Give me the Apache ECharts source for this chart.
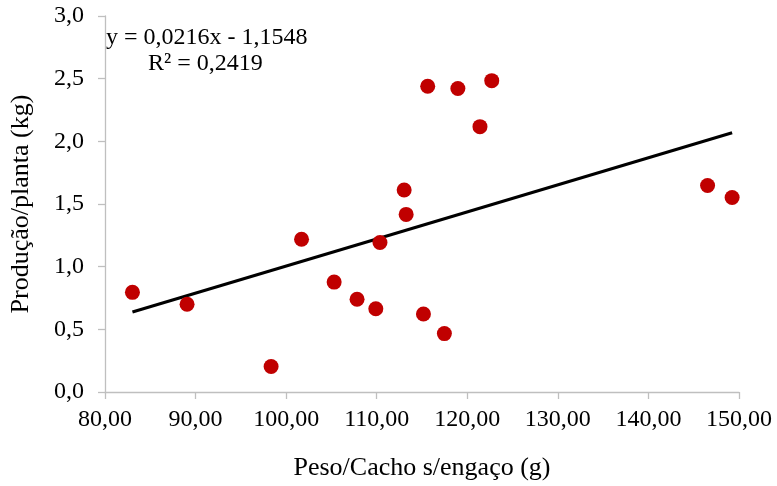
<!DOCTYPE html>
<html><head><meta charset="utf-8">
<script src="https://cdn.jsdelivr.net/npm/echarts@6/dist/echarts.min.js"></script>
<style>html,body{margin:0;padding:0;background:#fff}#c{width:777px;height:486px}</style>
</head><body><div id="c"></div>
<script>
const pesoCacho = [83.03, 89.06, 98.34, 101.7, 105.3, 107.83, 109.9, 110.36, 113.03, 113.25, 115.16, 115.63, 117.47, 118.96, 121.4, 122.7, 146.53, 149.24];
const producao  = [0.795, 0.70, 0.203, 1.219, 0.877, 0.74, 0.664, 1.193, 1.612, 1.417, 0.622, 2.44, 0.466, 2.422, 2.117, 2.484, 1.648, 1.552];
const slope = 0.0216, intercept = -1.1548;
const eqText = 'y = 0,0216x - 1,1548';
const r2Text = 'R² = 0,2419';
const xTitle = 'Peso/Cacho s/engaço (g)';
const yTitle = 'Produção/planta (kg)';

const pts = pesoCacho.map((x, i) => [x, producao[i]]);
const xMin = Math.min(...pesoCacho), xMax = Math.max(...pesoCacho);
const trend = [[xMin, slope * xMin + intercept], [xMax, slope * xMax + intercept]];
const font = '"Liberation Serif", "Times New Roman", serif';
const axisCol = '#bfbfbf';

const chart = echarts.init(document.getElementById('c'), null, {renderer: 'canvas'});
chart.setOption({
  animation: false,
  backgroundColor: '#fff',
  grid: {left: 93, right: 38, top: 16, bottom: 86, containLabel: false},
  xAxis: {
    type: 'value', min: 80, max: 150, interval: 10,
    name: xTitle, nameLocation: 'middle', nameGap: 63,
    nameTextStyle: {fontFamily: font, fontSize: 26, color: '#000'},
    axisLine: {show: true, lineStyle: {color: axisCol, width: 1.3}},
    axisTick: {show: true, length: 7, lineStyle: {color: axisCol, width: 1.3}},
    axisLabel: {margin: 16, fontFamily: font, fontSize: 24, color: '#000',
      formatter: v => v.toFixed(2).replace('.', ',')},
    splitLine: {show: false}
  },
  yAxis: {
    type: 'value', min: 0, max: 3, interval: 0.5,
    name: yTitle, nameLocation: 'middle', nameGap: 71, nameRotate: 90,
    nameTextStyle: {fontFamily: font, fontSize: 26, color: '#000'},
    axisLine: {show: true, lineStyle: {color: axisCol, width: 1.3}},
    axisTick: {show: true, length: 7, lineStyle: {color: axisCol, width: 1.3}},
    axisLabel: {margin: 21, fontFamily: font, fontSize: 24, color: '#000',
      formatter: v => v.toFixed(1).replace('.', ',')},
    splitLine: {show: false}
  },
  graphic: [
    {type: 'text', left: 106, top: 26, style: {text: eqText, font: '24px ' + font, fill: '#000'}},
    {type: 'text', left: 148, top: 52, style: {text: r2Text, font: '24px ' + font, fill: '#000'}}
  ],
  series: [
    {type: 'line', data: trend, symbol: 'none', lineStyle: {color: '#000', width: 3}, z: 2},
    {type: 'scatter', data: pts, symbol: 'circle', symbolSize: 15,
     itemStyle: {color: '#c00000', opacity: 1}, z: 3}
  ]
});
</script></body></html>
